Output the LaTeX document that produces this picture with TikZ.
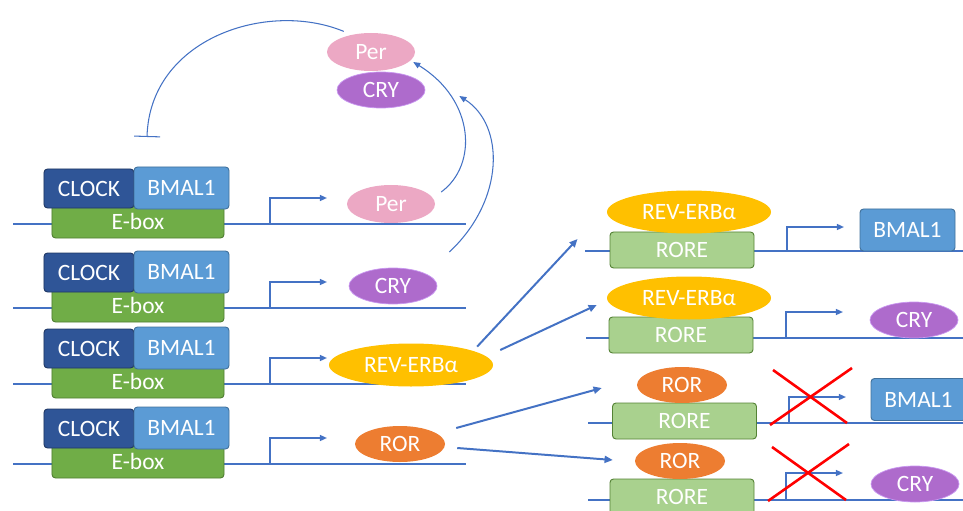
\documentclass[tikz,border=0pt]{standalone}
\usepackage{fontspec}
\setmainfont{Carlito}
\usetikzlibrary{shapes.geometric,arrows.meta}
\definecolor{clockfill}{RGB}{47,85,151}
\definecolor{clockline}{RGB}{32,56,100}
\definecolor{bmalfill}{RGB}{91,155,213}
\definecolor{bmalline}{RGB}{65,113,156}
\definecolor{eboxfill}{RGB}{112,173,71}
\definecolor{eboxline}{RGB}{80,126,50}
\definecolor{rorefill}{RGB}{169,209,142}
\definecolor{roreline}{RGB}{84,130,53}
\definecolor{perfill}{RGB}{236,168,196}
\definecolor{cryfill}{RGB}{174,107,204}
\definecolor{cryline}{RGB}{200,150,240}
\definecolor{revfill}{RGB}{255,192,0}
\definecolor{rorfill}{RGB}{237,125,49}
\definecolor{linkblue}{RGB}{68,114,196}

\begin{document}
\begin{tikzpicture}[x=0.03cm, y=-0.03cm,
  every node/.style={text=white, font=\fontsize{20}{24}\selectfont, inner sep=0pt},
  box/.style={rectangle, rounded corners=3pt, line width=0.8pt},
  clockbox/.style={box, draw=clockline, fill=clockfill, minimum width=2.7cm, minimum height=1.17cm},
  bmalbox/.style={box, draw=bmalline, fill=bmalfill, minimum width=2.85cm, minimum height=1.26cm},
  eboxbox/.style={box, draw=eboxline, fill=eboxfill, minimum width=5.16cm, minimum height=1.02cm},
  rorebox/.style={box, draw=roreline, fill=rorefill, minimum width=4.32cm, minimum height=1.08cm},
  prot/.style={ellipse, minimum height=1.08cm},
  perprot/.style={prot, fill=perfill, minimum width=2.64cm, minimum height=1.14cm},
  cryprot/.style={prot, fill=cryfill, draw=cryline, line width=0.6pt, minimum width=2.64cm},
  revprot/.style={prot, fill=revfill, minimum width=4.92cm, minimum height=1.29cm},
  rorprot/.style={prot, fill=rorfill, minimum width=2.7cm},
  dna/.style={draw=linkblue, line width=1.4pt},
  promoter/.style={draw=linkblue, line width=1.4pt, -{Triangle[length=6pt,width=5pt]}},
  link/.style={draw=linkblue, line width=1.7pt, -{Triangle[length=7pt,width=6pt]}},
  feedback/.style={draw=linkblue, line width=0.9pt, -{Triangle[length=6pt,width=5pt]}},
  inhibit/.style={draw=linkblue, line width=0.9pt, -{Bar[width=0.78cm]}},
  knockout/.style={draw=red, line width=2.2pt}]
\useasboundingbox (0,0) rectangle (963,511);

% E-box genes
\foreach \L [count=\i] in {224,308,384,464} {
  \draw[dna] (13,\L) -- (466,\L);
  \node[eboxbox] (ebox\i) at (138,\L-3) {E-box};
  \node[clockbox] (clock\i) at (89,\L-35.5) {CLOCK};
  \node[bmalbox] (bmal\i) at (181.5,\L-36) {BMAL1};
  \draw[promoter] (270,\L) |- (327,\L-26);
}
\node[perprot] (per1) at (391,204) {Per};
\node[cryprot] (cry2) at (393,286) {CRY};
\node[revprot] (rev3) at (411,365) {REV-ERBα};
\node[rorprot] (ror4) at (400,444) {ROR};

% Per/CRY feedback
\node[perprot] (pertop) at (371,52) {Per};
\node[cryprot] (crytop) at (381,90) {CRY};
\coordinate (repress) at (147,137);
\draw[inhibit] ([shift={(4,-7)}]pertop.north west) .. controls (268,0) and (150,38) .. (repress);
\draw[feedback] ([shift={(6,-12)}]per1.east) .. controls (478,165) and (475,100) .. ([shift={(-2,10)}]pertop.east);
\draw[feedback] ([shift={(12,-34)}]cry2.east) .. controls (505,200) and (505,125) .. ([shift={(34,6)}]crytop.east);

% RORE genes
\draw[dna] (585,251) -- (963,251);
\node[rorebox] (roreA) at (682,250) {RORE};
\node[revprot] (revA) at (689,212) {REV-ERBα};
\draw[promoter] (787,251) |- (844,227);
\node[bmalbox] (bmalA) at (907.5,230) {BMAL1};

\draw[dna] (586,338) -- (963,338);
\node[rorebox] (roreB) at (681,335) {RORE};
\node[revprot] (revB) at (689,298) {REV-ERBα};
\draw[promoter] (786,338) |- (843,312);
\node[cryprot] (cryB) at (914,320) {CRY};

\draw[dna] (588,423) -- (963,423);
\node[rorebox] (roreC) at (684.5,421) {RORE};
\node[rorprot] (rorC) at (682,385) {ROR};
\draw[promoter] (789,423) |- (846,397);
\node[bmalbox] (bmalC) at (918.5,399.5) {BMAL1};
\draw[knockout] (770,425) -- (852,368);
\draw[knockout] (773,370) -- (847,423);

\draw[dna] (588,500) -- (963,500);
\node[rorebox] (roreD) at (682,497) {RORE};
\node[rorprot] (rorD) at (680,461) {ROR};
\draw[promoter] (786,500) |- (843,473);
\node[cryprot] (cryD) at (915,484) {CRY};
\draw[knockout] (768,501) -- (849,444);
\draw[knockout] (772,447) -- (846,500);

% regulation
\draw[link] ([shift={(8,-3)}]rev3.north east) -- ([shift={(-32,-11)}]roreA.west);
\draw[link] ([shift={(7,-15)}]rev3.east) -- ([shift={(-10,7)}]revB.west);
\draw[link] ([shift={(11,-16)}]ror4.east) -- ([shift={(-35,3)}]rorC.west);
\draw[link] ([shift={(12,4)}]ror4.east) -- ([shift={(-22,-1)}]rorD.west);
\end{tikzpicture}
\end{document}
